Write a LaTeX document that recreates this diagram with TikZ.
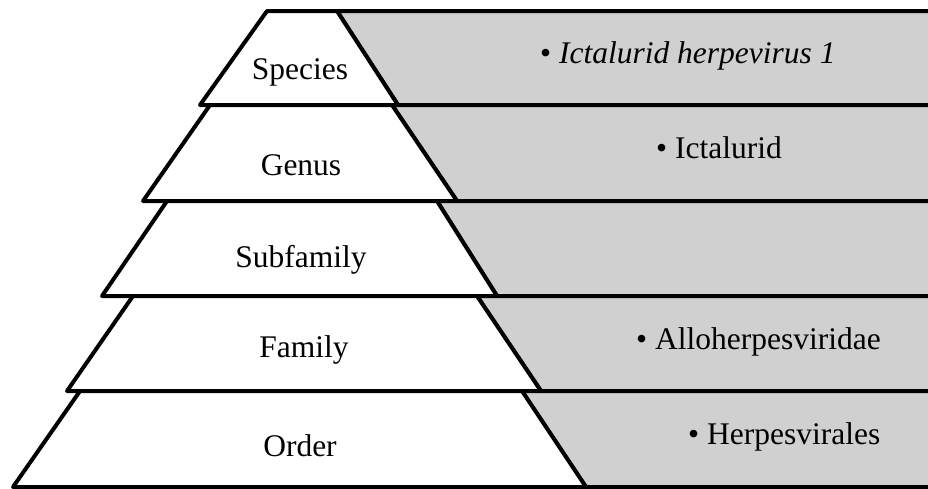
\documentclass[tikz,border=0pt]{standalone}
\usepackage{fontspec}
\setmainfont{Liberation Serif}
\usepackage{xcolor}
\definecolor{bandgray}{RGB}{208,208,208}

\begin{document}
\begin{tikzpicture}[x=1pt,y=-1pt,
  band/.style={fill=bandgray, draw=black, line width=4pt, line join=round},
  level/.style={fill=white, draw=black, line width=4pt, line join=round},
  rank/.style={font=\fontsize{31.5}{37}\selectfont, inner sep=0pt, anchor=base},
  info/.style={font=\fontsize{31.5}{37}\selectfont, inner sep=0pt, anchor=base west}]

\useasboundingbox (0,0) rectangle (928,488);
\clip (0,0) rectangle (928,488);

% species
\filldraw[band] (337,11) -- (960,11) -- (960,105) -- (398,105) -- cycle;
\filldraw[level] (267,11) -- (337,11) -- (398,105) -- (200,105) -- cycle;

% genus
\filldraw[band] (392,105) -- (960,105) -- (960,201) -- (457,201) -- cycle;
\filldraw[level] (210,105) -- (392,105) -- (457,201) -- (143,201) -- cycle;

% subfamily
\filldraw[band] (437,201) -- (960,201) -- (960,296) -- (497,296) -- cycle;
\filldraw[level] (167,201) -- (437,201) -- (497,296) -- (102,296) -- cycle;

% family
\filldraw[band] (477,296) -- (960,296) -- (960,391) -- (541,391) -- cycle;
\filldraw[level] (133,296) -- (477,296) -- (541,391) -- (67,391) -- cycle;

% order
\filldraw[band] (522,391) -- (960,391) -- (960,487) -- (586,487) -- cycle;
\filldraw[level] (80,391) -- (522,391) -- (586,487) -- (13,487) -- cycle;

\node[rank] (species) at (300,79) {Species};
\node[rank] (genus) at (301,175) {Genus};
\node[rank] (subfamily) at (301,267) {Subfamily};
\node[rank] (family) at (304,357) {Family};
\node[rank] (order) at (300,456) {Order};

\node[info] (species-info) at (540,63) {• \textit{Ictalurid herpevirus 1}};
\node[info] (genus-info) at (656,158) {• Ictalurid};
\node[info] (family-info) at (636,349) {• Alloherpesviridae};
\node[info] (order-info) at (688,444) {• Herpesvirales};

\end{tikzpicture}
\end{document}
